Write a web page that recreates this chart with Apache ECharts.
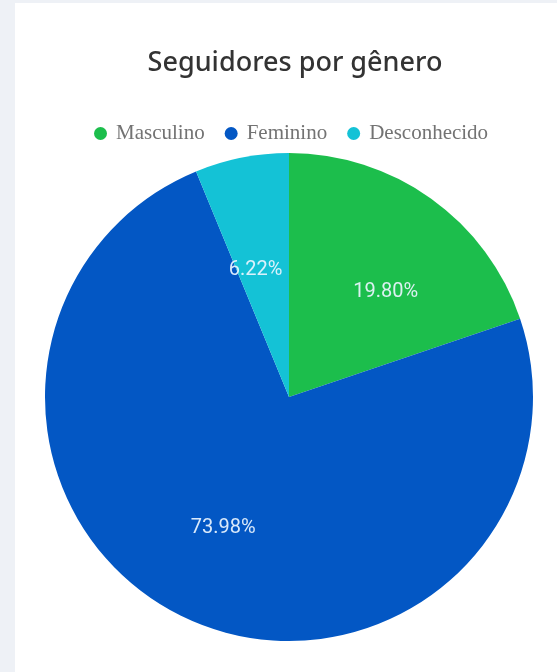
<!DOCTYPE html>
<html>
<head>
<meta charset="utf-8">
<script src="https://cdn.jsdelivr.net/npm/echarts@6/dist/echarts.min.js"></script>
<style>
html,body{margin:0;padding:0;width:557px;height:672px;background:#eef1f6;overflow:hidden;}
#card{position:absolute;left:15px;top:3px;right:0;bottom:0;background:#ffffff;}
#chart{position:absolute;left:0;top:0;width:557px;height:672px;}
</style>
</head>
<body>
<div id="card"></div>
<div id="chart"></div>
<script>
const titleText = 'Seguidores por gênero';
const categories = ['Masculino', 'Feminino', 'Desconhecido'];
const values = [19.80, 73.98, 6.22];
const colors = ['#1cbe4c', '#0357c4', '#14c2d6'];
const labelNudges = [[11, 14], [-5, -3], [-5, 17]];

const chart = echarts.init(document.getElementById('chart'), null, {renderer: 'canvas'});
const R = 244;
const C = [289, 397];
const data = categories.map((c, i) => ({name: c, value: values[i], itemStyle: {color: colors[i]}}));
chart.setOption({
  animation: false,
  title: {
    text: titleText,
    left: 290, top: 45, textAlign: 'center',
    textStyle: {fontFamily: 'Noto Sans', fontSize: 27, fontWeight: 500, color: '#333333'}
  },
  legend: {
    data: categories,
    left: 89, top: 118,
    icon: 'circle', itemWidth: 13, itemHeight: 13, itemGap: 20,
    textStyle: {fontFamily: 'Liberation Serif', fontSize: 21, color: '#737373', padding: [0, 0, 0, 4]}
  },
  series: [
    {
      type: 'pie', center: C, radius: [0, R], startAngle: 90, clockwise: true,
      data: data, label: {show: false}, labelLine: {show: false},
      itemStyle: {borderWidth: 0}, emphasis: {disabled: true}
    },
    {
      type: 'pie', center: C, radius: [R * 0.18, R], startAngle: 90, clockwise: true,
      silent: true, emphasis: {disabled: true},
      data: categories.map((c, i) => ({
        name: c, value: values[i],
        itemStyle: {color: 'rgba(0,0,0,0)'},
        label: {offset: labelNudges[i]}
      })),
      label: {
        show: true, position: 'inside',
        formatter: p => values[p.dataIndex].toFixed(2) + '%',
        fontFamily: 'Roboto', fontSize: 20, color: 'rgba(235,245,255,0.92)'
      },
      labelLine: {show: false}
    }
  ]
});
</script>
</body>
</html>
